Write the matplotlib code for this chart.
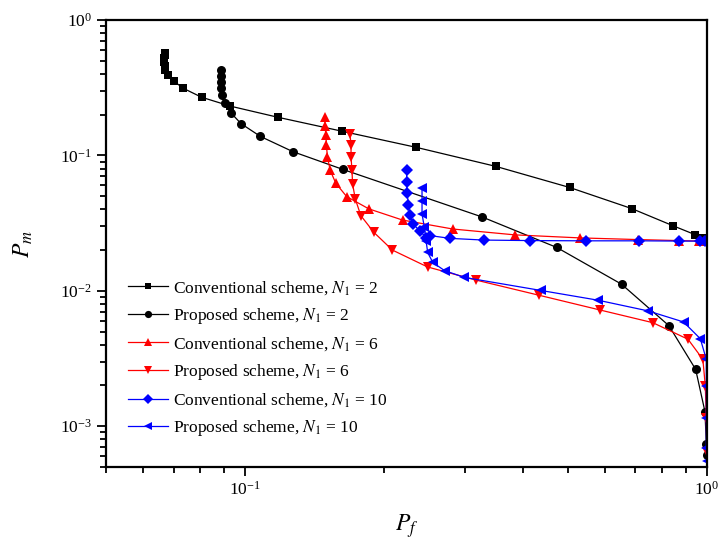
import matplotlib
matplotlib.use("Agg")
import matplotlib.pyplot as plt
from matplotlib.ticker import LogLocator, NullFormatter

plt.rcParams['font.family'] = ['Liberation Serif', 'DejaVu Serif']
plt.rcParams['mathtext.fontset'] = 'stix'

# Conventional scheme, N1 = 2
conv2_pf = [0.0670, 0.0670, 0.0669, 0.0669, 0.0670, 0.0672, 0.0680, 0.0700, 0.0735, 0.0805,
            0.0930, 0.118, 0.162, 0.235, 0.349, 0.504, 0.687, 0.843, 0.942, 0.980]
conv2_pm = [0.570, 0.550, 0.520, 0.490, 0.460, 0.430, 0.390, 0.355, 0.313, 0.269,
            0.231, 0.191, 0.151, 0.1146, 0.083, 0.058, 0.0405, 0.0303, 0.026, 0.0247]

# Proposed scheme, N1 = 2
prop2_pf = [0.0886, 0.0886, 0.0887, 0.0888, 0.0893, 0.0904, 0.0931, 0.098, 0.108, 0.127,
            0.163, 0.326, 0.473, 0.653, 0.827, 0.945, 0.990, 0.9966, 0.999]
prop2_pm = [0.426, 0.387, 0.351, 0.317, 0.278, 0.243, 0.207, 0.1717, 0.138, 0.1065,
            0.0787, 0.0351, 0.0209, 0.0112, 0.00553, 0.00263, 0.00128, 0.00074, 0.00061]

# Conventional scheme, N1 = 6
conv6_pf = [0.1489, 0.1489, 0.1497, 0.1500, 0.1508, 0.1529, 0.1572, 0.1659, 0.1853, 0.2193,
            0.2817, 0.3834, 0.5299, 0.7105, 0.8684, 0.9605, 0.984]
conv6_pm = [0.1922, 0.164, 0.1407, 0.1186, 0.0971, 0.0774, 0.0623, 0.0497, 0.0403, 0.0333,
            0.0286, 0.0259, 0.0246, 0.0239, 0.0235, 0.0233, 0.0232]

# Proposed scheme, N1 = 6
prop6_pf = [0.1687, 0.1696, 0.1696, 0.1704, 0.1709, 0.1732, 0.1781, 0.1901, 0.2084, 0.2484,
            0.3164, 0.4338, 0.5855, 0.7630, 0.9096, 0.9796, 0.9916, 0.9966, 0.9985]
prop6_pm = [0.1448, 0.1186, 0.0971, 0.0774, 0.0617, 0.0478, 0.0359, 0.0270, 0.0200, 0.0150,
            0.0120, 0.00926, 0.00723, 0.00582, 0.00439, 0.00312, 0.00198, 0.00115, 0.00065]

# Conventional scheme, N1 = 10
conv10_pf = [0.2238, 0.2238, 0.2243, 0.2258, 0.2270, 0.2309, 0.2387, 0.2468, 0.2509, 0.2779,
             0.3289, 0.4148, 0.5463, 0.7140, 0.8684, 0.9642, 0.9918]
conv10_pm = [0.0774, 0.0634, 0.0526, 0.0434, 0.0364, 0.0312, 0.0278, 0.0247, 0.0256, 0.0244,
             0.0237, 0.0235, 0.0234, 0.0234, 0.0233, 0.0233, 0.0233]

# Proposed scheme, N1 = 10
prop10_pf = [0.2416, 0.2416, 0.2416, 0.2444, 0.2465, 0.2485, 0.2549, 0.2704, 0.2984, 0.4363,
             0.5805, 0.7451, 0.8896, 0.9672, 0.9966, 0.9966, 0.9966, 0.9966, 0.9995]
prop10_pm = [0.0579, 0.0464, 0.0370, 0.0294, 0.0235, 0.0192, 0.0162, 0.0141, 0.01256, 0.01007,
             0.00853, 0.00711, 0.00589, 0.00443, 0.00312, 0.00198, 0.00115, 0.00069, 0.00055]

labels = [r'Conventional scheme, $N_1$ = 2', r'Proposed scheme, $N_1$ = 2',
          r'Conventional scheme, $N_1$ = 6', r'Proposed scheme, $N_1$ = 6',
          r'Conventional scheme, $N_1$ = 10', r'Proposed scheme, $N_1$ = 10']

fig = plt.figure(figsize=(7.22, 5.41), dpi=100)
ax = fig.add_axes([106 / 722, 1 - 467 / 541, (707 - 106) / 722, (467 - 20) / 541])

series = [
    (conv2_pf, conv2_pm, 'black', 's', 5.5),
    (prop2_pf, prop2_pm, 'black', 'o', 6.5),
    (conv6_pf, conv6_pm, 'red', '^', 7.5),
    (prop6_pf, prop6_pm, 'red', 'v', 7.5),
    (conv10_pf, conv10_pm, 'blue', 'D', 6),
    (prop10_pf, prop10_pm, 'blue', '<', 7.5),
]
for (x, y, c, m, ms), lab in zip(series, labels):
    ax.plot(x, y, color=c, marker=m, markersize=ms, linewidth=0.9, label=lab,
            markeredgewidth=0)

ax.set_xscale('log')
ax.set_yscale('log')
ax.set_xlim(0.05, 1)
ax.set_ylim(5e-4, 1)

ax.xaxis.set_major_locator(LogLocator(base=10, numticks=10))
ax.yaxis.set_major_locator(LogLocator(base=10, numticks=10))
ax.xaxis.set_minor_locator(LogLocator(base=10, subs=range(2, 10), numticks=20))
ax.yaxis.set_minor_locator(LogLocator(base=10, subs=range(2, 10), numticks=20))
ax.xaxis.set_minor_formatter(NullFormatter())
ax.yaxis.set_minor_formatter(NullFormatter())

ax.tick_params(which='both', direction='out', top=False, right=False, labelsize=12.5,
               width=1.3)
ax.tick_params(which='major', length=6.5)
ax.tick_params(which='minor', length=4)
for s in ax.spines.values():
    s.set_linewidth(1.6)

ax.set_xlabel(r'$P_f$', fontsize=17, labelpad=10)
ax.set_ylabel(r'$P_m$', fontsize=17, labelpad=18)

leg = ax.legend(loc='upper left', bbox_to_anchor=(0.036, 0.421), frameon=False,
                fontsize=12.5, handlelength=2.35, handletextpad=0.25, labelspacing=0.53,
                markerscale=0.8, borderaxespad=0.0, borderpad=0.0)

fig.savefig('out.png', dpi=100)
